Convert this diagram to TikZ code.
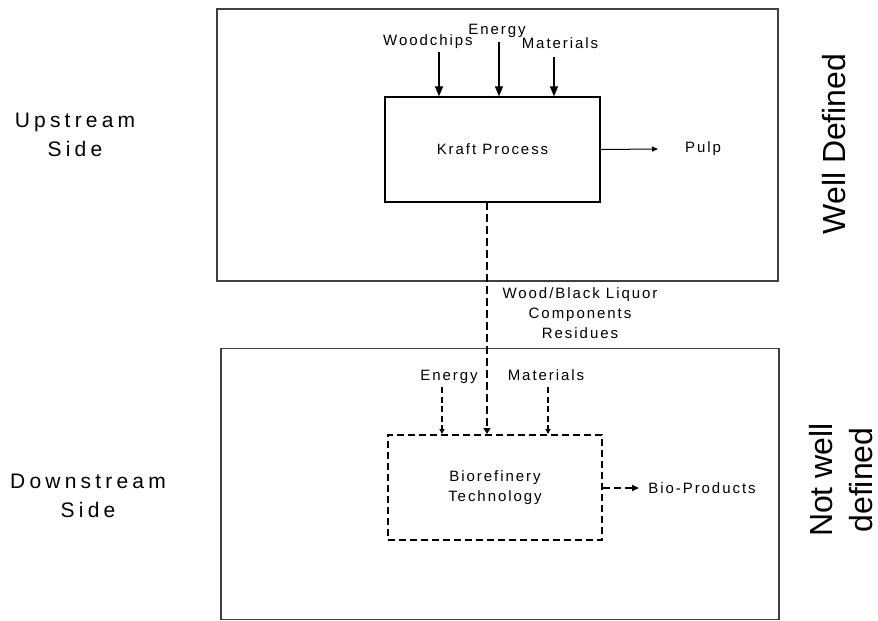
\documentclass[tikz,border=0pt]{standalone}
\usepackage{fontspec}
\setmainfont{Liberation Sans}
\newfontfamily\lsfont[LetterSpace=13]{Liberation Sans}
\newfontfamily\sidefont[LetterSpace=20]{Liberation Sans}
\usetikzlibrary{arrows.meta}
\begin{document}
\begin{tikzpicture}[x=1pt,y=-1pt,
  outerbox/.style={draw=black!75,line width=1.8pt,inner sep=0pt},
  procbox/.style={draw=black,line width=1.4pt,inner sep=0pt,align=center,
    font=\lsfont\fontsize{15}{20}\selectfont},
  dprocbox/.style={draw=black,line width=2pt,dash pattern=on 7pt off 4pt,inner sep=0pt,align=center,
    font=\lsfont\fontsize{15}{20}\selectfont},
  lbl/.style={inner sep=0pt,align=center,font=\lsfont\fontsize{15}{20}\selectfont},
  sidelbl/.style={inner sep=0pt,align=center,font=\sidefont\fontsize{21}{29}\selectfont},
  biglbl/.style={inner sep=0pt,align=center,rotate=90,font=\fontsize{32}{40}\selectfont},
  inarrow/.style={line width=1.3pt,-{Triangle[width=8pt,length=10pt]}},
  dinarrow/.style={line width=1.1pt,dash pattern=on 6pt off 3.5pt,-{Triangle[width=5pt,length=5pt]}},
  bigdash/.style={line width=2.6pt,dash pattern=on 8pt off 4pt,-{Triangle[width=7pt,length=6pt]}},
  outarrow/.style={line width=1pt,-{Triangle[width=5pt,length=6pt]}},
  doutarrow/.style={line width=2pt,dash pattern=on 7pt off 4pt,-{Triangle[width=6pt,length=7pt]}}
]
\useasboundingbox (0,0) rectangle (878,621);
\fill[white] (0,0) rectangle (878,621);

% outer boxes
\node[outerbox,minimum width=561pt,minimum height=272pt] (upbox) at (497.5,145) {};
\node[outerbox,minimum width=558pt,minimum height=271pt] (downbox) at (500,484) {};

% process boxes
\node[procbox,minimum width=215pt,minimum height=105pt] (kraft) at (492.5,149.5) {Kraft Process};
\node[dprocbox,minimum width=214pt,minimum height=105pt] (bio) at (495,487.5) {Biorefinery\\Technology};

% upstream inputs
\node[lbl,anchor=base] (woodchips) at (428,45) {Woodchips};
\node[lbl,anchor=base] (energy1) at (497,34) {Energy};
\node[lbl,anchor=base] (materials1) at (560,48) {Materials};
\coordinate (wcs) at (439,52);
\coordinate (ens) at (499,42);
\coordinate (mas) at (554,57);
\draw[inarrow] (wcs) -- (wcs |- kraft.north);
\draw[inarrow] (ens) -- (ens |- kraft.north);
\draw[inarrow] (mas) -- (mas |- kraft.north);

% pulp
\node[lbl] (pulp) at (703,149) {Pulp};
\coordinate (pulpend) at (658,149);
\draw[outarrow] (kraft.east) -- (pulpend);

% residues
\node[lbl,anchor=base] (resid) at (580,338) {Wood/Black Liquor\\Components\\Residues};
\coordinate (dtop) at (487,202);
\draw[bigdash] (dtop) -- (dtop |- bio.north);

% downstream inputs
\node[lbl,anchor=base] (energy2) at (449,380) {Energy};
\node[lbl,anchor=base] (materials2) at (546,380) {Materials};
\coordinate (en2) at (442,387);
\coordinate (ma2) at (548,387);
\draw[dinarrow] (en2) -- (en2 |- bio.north);
\draw[dinarrow] (ma2) -- (ma2 |- bio.north);

% bio-products
\node[lbl] (bioprod) at (702,488) {Bio-Products};
\coordinate (bpend) at (639,488);
\draw[doutarrow] (bio.east |- bpend) -- (bpend);

% side labels
\node[sidelbl,anchor=base] (up) at (75,156) {Upstream\\Side};
\node[sidelbl,anchor=base] (down) at (88,517) {Downstream\\Side};

% right labels
\node[biglbl,anchor=base] (well) at (845,144) {Well Defined};
\node[biglbl] (notwell) at (841,480) {Not well\\defined};
\end{tikzpicture}
\end{document}
